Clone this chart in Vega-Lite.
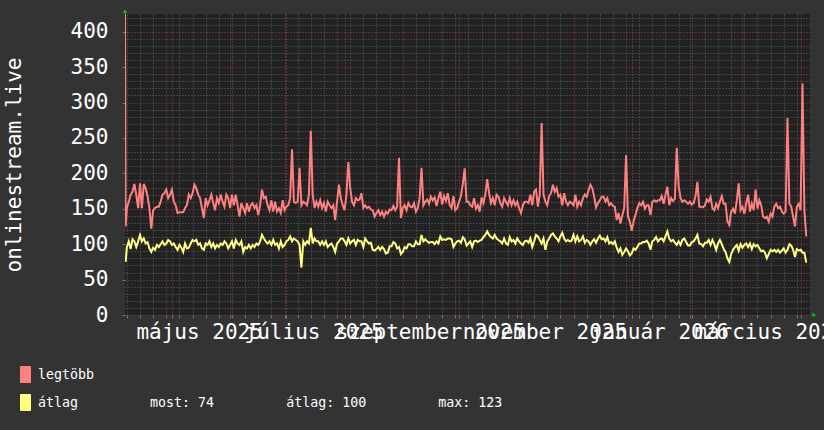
{
"$schema": "https://vega.github.io/schema/vega-lite/v6.json",
"width": 685,
"height": 301,
"autosize": {"type": "none"},
"padding": {"left": 125, "top": 14, "right": 14, "bottom": 115},
"background": "#333333",
"config": {"view": {"fill": "#222222", "stroke": null}, "font": "DejaVu Sans Mono"},
"layer": [
{
"data": {"values": [
{"t":"2025-04-06T00:00:00Z","max":425},
{"t":"2025-04-06T08:00:00Z","max":125,"avg":75},
{"t":"2025-04-07","max":151,"avg":96},{"t":"2025-04-08","max":160,"avg":104},{"t":"2025-04-09","max":170,"avg":93},{"t":"2025-04-10","max":174,"avg":107},{"t":"2025-04-11","max":185,"avg":104},{"t":"2025-04-12","max":170,"avg":96},{"t":"2025-04-13","max":151,"avg":104},{"t":"2025-04-14","max":186,"avg":113},{"t":"2025-04-15","max":151,"avg":104},{"t":"2025-04-16","max":185,"avg":108},{"t":"2025-04-17","max":179,"avg":101},{"t":"2025-04-18","max":168,"avg":103},{"t":"2025-04-19","max":151,"avg":94},{"t":"2025-04-20","max":122,"avg":89},{"t":"2025-04-21","max":148,"avg":95},{"t":"2025-04-22","max":151,"avg":92},{"t":"2025-04-23","max":153,"avg":99},{"t":"2025-04-24","max":153,"avg":96},{"t":"2025-04-25","max":160,"avg":100},{"t":"2025-04-26","max":170,"avg":104},{"t":"2025-04-27","max":172,"avg":99},{"t":"2025-04-28","max":177,"avg":101},{"t":"2025-04-29","max":165,"avg":106},{"t":"2025-04-30","max":170,"avg":104},
{"t":"2025-05-01","max":177,"avg":99},{"t":"2025-05-02","max":160,"avg":101},{"t":"2025-05-03","max":155,"avg":96},{"t":"2025-05-04","max":144,"avg":92},{"t":"2025-05-05","max":145,"avg":99},{"t":"2025-05-06","max":145,"avg":95},{"t":"2025-05-07","max":145,"avg":89},{"t":"2025-05-08","max":151,"avg":101},{"t":"2025-05-09","max":155,"avg":94},{"t":"2025-05-10","max":170,"avg":95},{"t":"2025-05-11","max":165,"avg":101},{"t":"2025-05-12","max":172,"avg":106},{"t":"2025-05-13","max":184,"avg":104},{"t":"2025-05-14","max":179,"avg":106},{"t":"2025-05-15","max":170,"avg":99},{"t":"2025-05-16","max":165,"avg":101},{"t":"2025-05-17","max":151,"avg":94},{"t":"2025-05-18","max":137,"avg":92},{"t":"2025-05-19","max":165,"avg":101},{"t":"2025-05-20","max":155,"avg":99},{"t":"2025-05-21","max":162,"avg":104},{"t":"2025-05-22","max":170,"avg":96},{"t":"2025-05-23","max":158,"avg":101},{"t":"2025-05-24","max":148,"avg":94},{"t":"2025-05-25","max":165,"avg":99},{"t":"2025-05-26","max":158,"avg":96},{"t":"2025-05-27","max":170,"avg":101},{"t":"2025-05-28","max":160,"avg":99},{"t":"2025-05-29","max":153,"avg":104},{"t":"2025-05-30","max":170,"avg":101},{"t":"2025-05-31","max":165,"avg":94},
{"t":"2025-06-01","max":151,"avg":99},{"t":"2025-06-02","max":170,"avg":104},{"t":"2025-06-03","max":155,"avg":94},{"t":"2025-06-04","max":170,"avg":106},{"t":"2025-06-05","max":155,"avg":101},{"t":"2025-06-06","max":139,"avg":99},{"t":"2025-06-07","max":158,"avg":104},{"t":"2025-06-08","max":151,"avg":89},{"t":"2025-06-09","max":144,"avg":96},{"t":"2025-06-10","max":158,"avg":94},{"t":"2025-06-11","max":146,"avg":99},{"t":"2025-06-12","max":155,"avg":94},{"t":"2025-06-13","max":158,"avg":99},{"t":"2025-06-14","max":151,"avg":96},{"t":"2025-06-15","max":155,"avg":101},{"t":"2025-06-16","max":141,"avg":99},{"t":"2025-06-17","max":155,"avg":104},{"t":"2025-06-18","max":177,"avg":113},{"t":"2025-06-19","max":165,"avg":108},{"t":"2025-06-20","max":167,"avg":104},{"t":"2025-06-21","max":155,"avg":101},{"t":"2025-06-22","max":148,"avg":104},{"t":"2025-06-23","max":162,"avg":99},{"t":"2025-06-24","max":146,"avg":106},{"t":"2025-06-25","max":160,"avg":99},{"t":"2025-06-26","max":146,"avg":101},{"t":"2025-06-27","max":151,"avg":94},{"t":"2025-06-28","max":144,"avg":104},{"t":"2025-06-29","max":162,"avg":96},{"t":"2025-06-30","max":148,"avg":99},
{"t":"2025-07-01","max":153,"avg":104},{"t":"2025-07-02","max":155,"avg":106},{"t":"2025-07-03","max":165,"avg":111},{"t":"2025-07-04","max":234,"avg":104},{"t":"2025-07-05","max":160,"avg":108},{"t":"2025-07-06","max":158,"avg":106},{"t":"2025-07-07","max":160,"avg":104},{"t":"2025-07-08","max":208,"avg":99},{"t":"2025-07-09","max":155,"avg":67},{"t":"2025-07-10","max":160,"avg":104},{"t":"2025-07-11","max":158,"avg":99},{"t":"2025-07-12","max":155,"avg":104},{"t":"2025-07-13","max":170,"avg":101},{"t":"2025-07-14","max":260,"avg":123},{"t":"2025-07-15","max":170,"avg":101},{"t":"2025-07-16","max":151,"avg":108},{"t":"2025-07-17","max":160,"avg":104},{"t":"2025-07-18","max":153,"avg":104},{"t":"2025-07-19","max":162,"avg":99},{"t":"2025-07-20","max":151,"avg":104},{"t":"2025-07-21","max":158,"avg":99},{"t":"2025-07-22","max":146,"avg":104},{"t":"2025-07-23","max":160,"avg":96},{"t":"2025-07-24","max":155,"avg":99},{"t":"2025-07-25","max":151,"avg":101},{"t":"2025-07-26","max":155,"avg":96},{"t":"2025-07-27","max":134,"avg":89},{"t":"2025-07-28","max":160,"avg":101},{"t":"2025-07-29","max":184,"avg":104},{"t":"2025-07-30","max":165,"avg":108},{"t":"2025-07-31","max":155,"avg":108},
{"t":"2025-08-01","max":148,"avg":104},{"t":"2025-08-02","max":170,"avg":99},{"t":"2025-08-03","max":216,"avg":108},{"t":"2025-08-04","max":179,"avg":101},{"t":"2025-08-05","max":160,"avg":104},{"t":"2025-08-06","max":155,"avg":106},{"t":"2025-08-07","max":165,"avg":99},{"t":"2025-08-08","max":162,"avg":106},{"t":"2025-08-09","max":163,"avg":104},{"t":"2025-08-10","max":172,"avg":104},{"t":"2025-08-11","max":151,"avg":96},{"t":"2025-08-12","max":155,"avg":108},{"t":"2025-08-13","max":151,"avg":104},{"t":"2025-08-14","max":153,"avg":101},{"t":"2025-08-15","max":149,"avg":102},{"t":"2025-08-16","max":148,"avg":92},{"t":"2025-08-17","max":139,"avg":91},{"t":"2025-08-18","max":144,"avg":93},{"t":"2025-08-19","max":148,"avg":96},{"t":"2025-08-20","max":141,"avg":92},{"t":"2025-08-21","max":146,"avg":96},{"t":"2025-08-22","max":139,"avg":93},{"t":"2025-08-23","max":146,"avg":87},{"t":"2025-08-24","max":143,"avg":88},{"t":"2025-08-25","max":149,"avg":97},{"t":"2025-08-26","max":148,"avg":97},{"t":"2025-08-27","max":154,"avg":103},{"t":"2025-08-28","max":148,"avg":101},{"t":"2025-08-29","max":153,"avg":94},{"t":"2025-08-30","max":222,"avg":96},{"t":"2025-08-31","max":137,"avg":86},
{"t":"2025-09-01","max":151,"avg":89},{"t":"2025-09-02","max":155,"avg":96},{"t":"2025-09-03","max":148,"avg":94},{"t":"2025-09-04","max":158,"avg":100},{"t":"2025-09-05","max":153,"avg":100},{"t":"2025-09-06","max":152,"avg":97},{"t":"2025-09-07","max":158,"avg":97},{"t":"2025-09-08","max":146,"avg":104},{"t":"2025-09-09","max":151,"avg":100},{"t":"2025-09-10","max":165,"avg":100},{"t":"2025-09-11","max":208,"avg":113},{"t":"2025-09-12","max":155,"avg":104},{"t":"2025-09-13","max":160,"avg":107},{"t":"2025-09-14","max":163,"avg":104},{"t":"2025-09-15","max":157,"avg":102},{"t":"2025-09-16","max":167,"avg":103},{"t":"2025-09-17","max":162,"avg":103},{"t":"2025-09-18","max":166,"avg":100},{"t":"2025-09-19","max":154,"avg":104},{"t":"2025-09-20","max":165,"avg":101},{"t":"2025-09-21","max":174,"avg":111},{"t":"2025-09-22","max":156,"avg":106},{"t":"2025-09-23","max":168,"avg":107},{"t":"2025-09-24","max":161,"avg":106},{"t":"2025-09-25","max":172,"avg":108},{"t":"2025-09-26","max":155,"avg":108},{"t":"2025-09-27","max":151,"avg":107},{"t":"2025-09-28","max":168,"avg":96},{"t":"2025-09-29","max":148,"avg":101},{"t":"2025-09-30","max":151,"avg":104},
{"t":"2025-10-01","max":160,"avg":105},{"t":"2025-10-02","max":168,"avg":102},{"t":"2025-10-03","max":185,"avg":110},{"t":"2025-10-04","max":207,"avg":107},{"t":"2025-10-05","max":160,"avg":98},{"t":"2025-10-06","max":160,"avg":101},{"t":"2025-10-07","max":155,"avg":104},{"t":"2025-10-08","max":153,"avg":96},{"t":"2025-10-09","max":165,"avg":104},{"t":"2025-10-10","max":150,"avg":105},{"t":"2025-10-11","max":155,"avg":103},{"t":"2025-10-12","max":146,"avg":105},{"t":"2025-10-13","max":166,"avg":106},{"t":"2025-10-14","max":158,"avg":110},{"t":"2025-10-15","max":170,"avg":113},{"t":"2025-10-16","max":192,"avg":118},{"t":"2025-10-17","max":172,"avg":113},{"t":"2025-10-18","max":158,"avg":110},{"t":"2025-10-19","max":165,"avg":108},{"t":"2025-10-20","max":155,"avg":113},{"t":"2025-10-21","max":170,"avg":108},{"t":"2025-10-22","max":167,"avg":106},{"t":"2025-10-23","max":158,"avg":104},{"t":"2025-10-24","max":153,"avg":101},{"t":"2025-10-25","max":165,"avg":108},{"t":"2025-10-26","max":160,"avg":101},{"t":"2025-10-27","max":155,"avg":99},{"t":"2025-10-28","max":165,"avg":110},{"t":"2025-10-29","max":155,"avg":104},{"t":"2025-10-30","max":162,"avg":106},{"t":"2025-10-31","max":155,"avg":101},
{"t":"2025-11-01","max":160,"avg":108},{"t":"2025-11-02","max":151,"avg":104},{"t":"2025-11-03","max":144,"avg":101},{"t":"2025-11-04","max":155,"avg":99},{"t":"2025-11-05","max":160,"avg":104},{"t":"2025-11-06","max":160,"avg":105},{"t":"2025-11-07","max":158,"avg":102},{"t":"2025-11-08","max":170,"avg":108},{"t":"2025-11-09","max":155,"avg":96},{"t":"2025-11-10","max":174,"avg":104},{"t":"2025-11-11","max":177,"avg":113},{"t":"2025-11-12","max":153,"avg":111},{"t":"2025-11-13","max":170,"avg":106},{"t":"2025-11-14","max":271,"avg":101},{"t":"2025-11-15","max":170,"avg":108},{"t":"2025-11-16","max":160,"avg":92},{"t":"2025-11-17","max":155,"avg":104},{"t":"2025-11-18","max":168,"avg":108},{"t":"2025-11-19","max":172,"avg":113},{"t":"2025-11-20","max":184,"avg":115},{"t":"2025-11-21","max":174,"avg":111},{"t":"2025-11-22","max":179,"avg":108},{"t":"2025-11-23","max":167,"avg":104},{"t":"2025-11-24","max":170,"avg":111},{"t":"2025-11-25","max":155,"avg":116},{"t":"2025-11-26","max":172,"avg":108},{"t":"2025-11-27","max":160,"avg":104},{"t":"2025-11-28","max":155,"avg":106},{"t":"2025-11-29","max":160,"avg":104},{"t":"2025-11-30","max":158,"avg":105},
{"t":"2025-12-01","max":155,"avg":113},{"t":"2025-12-02","max":170,"avg":104},{"t":"2025-12-03","max":153,"avg":111},{"t":"2025-12-04","max":160,"avg":104},{"t":"2025-12-05","max":155,"avg":106},{"t":"2025-12-06","max":165,"avg":111},{"t":"2025-12-07","max":170,"avg":102},{"t":"2025-12-08","max":167,"avg":106},{"t":"2025-12-09","max":176,"avg":104},{"t":"2025-12-10","max":184,"avg":99},{"t":"2025-12-11","max":179,"avg":104},{"t":"2025-12-12","max":167,"avg":107},{"t":"2025-12-13","max":152,"avg":102},{"t":"2025-12-14","max":158,"avg":108},{"t":"2025-12-15","max":162,"avg":112},{"t":"2025-12-16","max":167,"avg":107},{"t":"2025-12-17","max":167,"avg":108},{"t":"2025-12-18","max":160,"avg":104},{"t":"2025-12-19","max":165,"avg":110},{"t":"2025-12-20","max":155,"avg":101},{"t":"2025-12-21","max":158,"avg":103},{"t":"2025-12-22","max":154,"avg":100},{"t":"2025-12-23","max":153,"avg":104},{"t":"2025-12-24","max":134,"avg":95},{"t":"2025-12-25","max":144,"avg":89},{"t":"2025-12-26","max":129,"avg":94},{"t":"2025-12-27","max":141,"avg":85},{"t":"2025-12-28","max":151,"avg":89},{"t":"2025-12-29","max":226,"avg":94},{"t":"2025-12-30","max":139,"avg":90},{"t":"2025-12-31","max":132,"avg":84},
{"t":"2026-01-01","max":119,"avg":87},{"t":"2026-01-02","max":132,"avg":94},{"t":"2026-01-03","max":141,"avg":92},{"t":"2026-01-04","max":151,"avg":96},{"t":"2026-01-05","max":158,"avg":101},{"t":"2026-01-06","max":155,"avg":101},{"t":"2026-01-07","max":160,"avg":103},{"t":"2026-01-08","max":150,"avg":103},{"t":"2026-01-09","max":155,"avg":105},{"t":"2026-01-10","max":155,"avg":101},{"t":"2026-01-11","max":141,"avg":92},{"t":"2026-01-12","max":160,"avg":104},{"t":"2026-01-13","max":162,"avg":106},{"t":"2026-01-14","max":160,"avg":110},{"t":"2026-01-15","max":162,"avg":104},{"t":"2026-01-16","max":162,"avg":107},{"t":"2026-01-17","max":168,"avg":108},{"t":"2026-01-18","max":157,"avg":104},{"t":"2026-01-19","max":170,"avg":111},{"t":"2026-01-20","max":181,"avg":118},{"t":"2026-01-21","max":155,"avg":108},{"t":"2026-01-22","max":165,"avg":104},{"t":"2026-01-23","max":161,"avg":106},{"t":"2026-01-24","max":164,"avg":102},{"t":"2026-01-25","max":236,"avg":99},{"t":"2026-01-26","max":182,"avg":104},{"t":"2026-01-27","max":165,"avg":99},{"t":"2026-01-28","max":160,"avg":106},{"t":"2026-01-29","max":162,"avg":108},{"t":"2026-01-30","max":160,"avg":103},{"t":"2026-01-31","max":157,"avg":98},
{"t":"2026-02-01","max":160,"avg":98},{"t":"2026-02-02","max":156,"avg":103},{"t":"2026-02-03","max":158,"avg":104},{"t":"2026-02-04","max":168,"avg":108},{"t":"2026-02-05","max":188,"avg":113},{"t":"2026-02-06","max":153,"avg":101},{"t":"2026-02-07","max":153,"avg":100},{"t":"2026-02-08","max":152,"avg":97},{"t":"2026-02-09","max":155,"avg":102},{"t":"2026-02-10","max":163,"avg":102},{"t":"2026-02-11","max":160,"avg":106},{"t":"2026-02-12","max":167,"avg":99},{"t":"2026-02-13","max":151,"avg":106},{"t":"2026-02-14","max":148,"avg":100},{"t":"2026-02-15","max":157,"avg":92},{"t":"2026-02-16","max":151,"avg":101},{"t":"2026-02-17","max":160,"avg":106},{"t":"2026-02-18","max":168,"avg":100},{"t":"2026-02-19","max":157,"avg":93},{"t":"2026-02-20","max":157,"avg":89},{"t":"2026-02-21","max":132,"avg":80},{"t":"2026-02-22","max":127,"avg":75},{"t":"2026-02-23","max":146,"avg":86},{"t":"2026-02-24","max":150,"avg":92},{"t":"2026-02-25","max":143,"avg":96},{"t":"2026-02-26","max":162,"avg":99},{"t":"2026-02-27","max":186,"avg":91},{"t":"2026-02-28","max":148,"avg":100},
{"t":"2026-03-01","max":153,"avg":95},{"t":"2026-03-02","max":143,"avg":99},{"t":"2026-03-03","max":157,"avg":101},{"t":"2026-03-04","max":170,"avg":96},{"t":"2026-03-05","max":146,"avg":101},{"t":"2026-03-06","max":157,"avg":93},{"t":"2026-03-07","max":148,"avg":100},{"t":"2026-03-08","max":177,"avg":97},{"t":"2026-03-09","max":150,"avg":99},{"t":"2026-03-10","max":162,"avg":94},{"t":"2026-03-11","max":155,"avg":90},{"t":"2026-03-12","max":139,"avg":91},{"t":"2026-03-13","max":137,"avg":88},{"t":"2026-03-14","max":139,"avg":80},{"t":"2026-03-15","max":132,"avg":86},{"t":"2026-03-16","max":143,"avg":92},{"t":"2026-03-17","max":139,"avg":90},{"t":"2026-03-18","max":153,"avg":92},{"t":"2026-03-19","max":157,"avg":89},{"t":"2026-03-20","max":151,"avg":92},{"t":"2026-03-21","max":153,"avg":88},{"t":"2026-03-22","max":146,"avg":91},{"t":"2026-03-23","max":143,"avg":94},{"t":"2026-03-24","max":146,"avg":88},{"t":"2026-03-25","max":278,"avg":92},{"t":"2026-03-26","max":157,"avg":100},{"t":"2026-03-27","max":153,"avg":98},{"t":"2026-03-28","max":139,"avg":92},{"t":"2026-03-29","max":125,"avg":82},{"t":"2026-03-30","max":153,"avg":93},{"t":"2026-03-31","max":157,"avg":91},
{"t":"2026-04-01","max":148,"avg":92},{"t":"2026-04-02","max":327,"avg":88},{"t":"2026-04-03","max":148,"avg":88},{"t":"2026-04-04","max":111,"avg":74}
]},
"transform": [{"fold": ["max", "avg"], "as": ["s", "v"]}],
"mark": {"type": "line", "strokeWidth": 2, "clip": true},
"encoding": {
"x": {"field": "t", "type": "temporal",
"scale": {"domain": [{"year": 2025, "month": 4, "date": 6, "utc": true}, {"year": 2026, "month": 4, "date": 6, "utc": true}], "nice": false},
"axis": {"title": null, "tickCount": 1000,
"values": [
{"year":2025,"month":4,"date":7,"utc":true},{"year":2025,"month":4,"date":14,"utc":true},{"year":2025,"month":4,"date":21,"utc":true},{"year":2025,"month":4,"date":28,"utc":true},
{"year":2025,"month":5,"date":5,"utc":true},{"year":2025,"month":5,"date":12,"utc":true},{"year":2025,"month":5,"date":19,"utc":true},{"year":2025,"month":5,"date":26,"utc":true},
{"year":2025,"month":6,"date":2,"utc":true},{"year":2025,"month":6,"date":9,"utc":true},{"year":2025,"month":6,"date":16,"utc":true},{"year":2025,"month":6,"date":23,"utc":true},{"year":2025,"month":6,"date":30,"utc":true},
{"year":2025,"month":7,"date":7,"utc":true},{"year":2025,"month":7,"date":14,"utc":true},{"year":2025,"month":7,"date":21,"utc":true},{"year":2025,"month":7,"date":28,"utc":true},
{"year":2025,"month":8,"date":4,"utc":true},{"year":2025,"month":8,"date":11,"utc":true},{"year":2025,"month":8,"date":18,"utc":true},{"year":2025,"month":8,"date":25,"utc":true},
{"year":2025,"month":9,"date":8,"utc":true},{"year":2025,"month":9,"date":15,"utc":true},{"year":2025,"month":9,"date":22,"utc":true},{"year":2025,"month":9,"date":29,"utc":true},
{"year":2025,"month":10,"date":6,"utc":true},{"year":2025,"month":10,"date":13,"utc":true},{"year":2025,"month":10,"date":20,"utc":true},{"year":2025,"month":10,"date":27,"utc":true},
{"year":2025,"month":11,"date":3,"utc":true},{"year":2025,"month":11,"date":10,"utc":true},{"year":2025,"month":11,"date":17,"utc":true},{"year":2025,"month":11,"date":24,"utc":true},
{"year":2025,"month":12,"date":8,"utc":true},{"year":2025,"month":12,"date":15,"utc":true},{"year":2025,"month":12,"date":22,"utc":true},{"year":2025,"month":12,"date":29,"utc":true},
{"year":2026,"month":1,"date":5,"utc":true},{"year":2026,"month":1,"date":12,"utc":true},{"year":2026,"month":1,"date":19,"utc":true},{"year":2026,"month":1,"date":26,"utc":true},
{"year":2026,"month":2,"date":2,"utc":true},{"year":2026,"month":2,"date":9,"utc":true},{"year":2026,"month":2,"date":16,"utc":true},{"year":2026,"month":2,"date":23,"utc":true},
{"year":2026,"month":3,"date":2,"utc":true},{"year":2026,"month":3,"date":9,"utc":true},{"year":2026,"month":3,"date":16,"utc":true},{"year":2026,"month":3,"date":23,"utc":true},{"year":2026,"month":3,"date":30,"utc":true},
{"year":2025,"month":5,"date":1,"utc":true},{"year":2025,"month":6,"date":1,"utc":true},{"year":2025,"month":7,"date":1,"utc":true},{"year":2025,"month":8,"date":1,"utc":true},{"year":2025,"month":9,"date":1,"utc":true},{"year":2025,"month":10,"date":1,"utc":true},{"year":2025,"month":11,"date":1,"utc":true},{"year":2025,"month":12,"date":1,"utc":true},{"year":2026,"month":1,"date":1,"utc":true},{"year":2026,"month":2,"date":1,"utc":true},{"year":2026,"month":3,"date":1,"utc":true},{"year":2026,"month":4,"date":1,"utc":true},
{"year":2025,"month":5,"date":15,"hours":12,"utc":true},{"year":2025,"month":7,"date":15,"hours":12,"utc":true},{"year":2025,"month":9,"date":15,"hours":12,"utc":true},{"year":2025,"month":11,"date":15,"hours":12,"utc":true},{"year":2026,"month":1,"date":15,"hours":12,"utc":true},{"year":2026,"month":3,"date":15,"hours":12,"utc":true}
],
"labelExpr": "utchours(datum.value) == 12 ? ['január','február','március','április','május','június','július','augusztus','szeptember','október','november','december'][utcmonth(datum.value)] + ' ' + utcyear(datum.value) : ''",
"labelFont": "DejaVu Sans Mono", "labelFontSize": 21, "labelColor": "#ffffff",
"labelBaseline": "alphabetic", "labelAlign": "center", "labelPadding": 20,
"labelOverlap": false, "labelFlush": false, "labelBound": false, "labelLimit": 0,
"tickSize": 3, "tickColor": "#777777",
"tickOpacity": {"condition": {"test": "utchours(datum.value) == 12", "value": 0}, "value": 1},
"domain": false, "grid": true, "gridDash": [1, 2], "gridWidth": 1,
"gridColor": {"condition": {"test": "utcdate(datum.value) == 1", "value": "#9a3a3a"}, "value": "#606060"},
"gridOpacity": {"condition": {"test": "utchours(datum.value) == 12", "value": 0}, "value": 1}
}},
"y": {"field": "v", "type": "quantitative",
"scale": {"domain": [0, 425], "nice": false, "zero": true},
"axis": {"title": "onlinestream.live", "tickCount": 1000, "format": "d",
"titleFont": "DejaVu Sans Mono", "titleFontSize": 21, "titleFontWeight": "normal", "titleColor": "#ffffff",
"titleX": -105, "titleY": 150.5, "titleAngle": -90, "titleAlign": "center", "titleBaseline": "alphabetic",
"values": [0,10,20,30,40,50,60,70,80,90,100,110,120,130,140,150,160,170,180,190,200,210,220,230,240,250,260,270,280,290,300,310,320,330,340,350,360,370,380,390,400,410,420],
"labelExpr": "datum.value % 50 == 0 ? '' + datum.value : ''",
"labelFont": "DejaVu Sans Mono", "labelFontSize": 21, "labelColor": "#ffffff",
"labelPadding": 14, "labelOverlap": false, "labelFlush": false, "labelBound": false,
"tickSize": 3, "tickColor": "#777777",
"tickOpacity": {"condition": {"test": "datum.value % 50 == 0", "value": 1}, "value": 0},
"domain": false, "grid": true, "gridDash": [1, 2], "gridWidth": 1,
"gridColor": {"condition": {"test": "datum.value % 50 == 0", "value": "#9a3a3a"}, "value": "#606060"}
}},
"color": {"field": "s", "type": "nominal",
"scale": {"domain": ["max", "avg"], "range": ["#ff8080", "#ffff80"]},
"legend": {"orient": "none", "legendX": -108, "legendY": 352, "title": null, "direction": "vertical",
"padding": 0, "rowPadding": 7,
"symbolType": "M-0.625,-1H0.625V1H-0.625Z", "symbolSize": 256, "symbolStrokeWidth": 1, "symbolStrokeColor": "#000000",
"labelFont": "DejaVu Sans Mono", "labelFontSize": 13.3, "labelColor": "#ffffff", "labelOffset": 4, "labelLimit": 900,
"labelExpr": "datum.value == 'max' ? 'legtöbb' : 'átlag\u00a0\u00a0\u00a0\u00a0\u00a0\u00a0\u00a0\u00a0\u00a0most: 74\u00a0\u00a0\u00a0\u00a0\u00a0\u00a0\u00a0\u00a0\u00a0átlag: 100\u00a0\u00a0\u00a0\u00a0\u00a0\u00a0\u00a0\u00a0\u00a0max: 123'",
"encode": {"symbols": {"update": {"fill": {"scale": "color", "field": "value"}, "fillOpacity": {"value": 1}, "stroke": {"value": "#000000"}, "strokeWidth": {"value": 1}, "opacity": {"value": 1}}}}
}}
}
},
{
"data": {"values": [{"t": "2025-04-06T00:00:00Z", "v": 429}]},
"mark": {"type": "point", "shape": "triangle-up", "filled": true, "color": "#00c800", "size": 22, "opacity": 1},
"encoding": {"x": {"field": "t", "type": "temporal"}, "y": {"field": "v", "type": "quantitative"}}
},
{
"data": {"values": [{"t": "2026-04-08T07:00:00Z", "v": 0}]},
"mark": {"type": "point", "shape": "triangle-right", "filled": true, "color": "#00c800", "size": 22, "opacity": 1},
"encoding": {"x": {"field": "t", "type": "temporal"}, "y": {"field": "v", "type": "quantitative"}}
}
]
}
